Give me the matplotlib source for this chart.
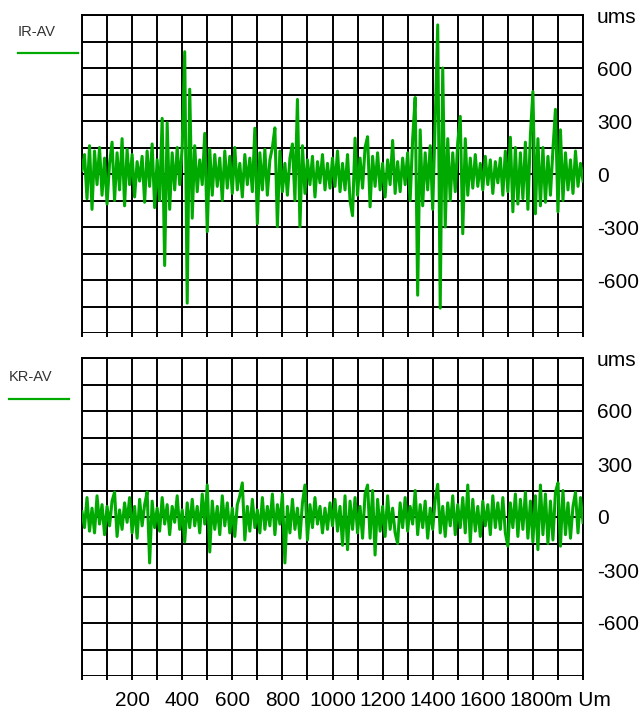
import numpy as np
import matplotlib
matplotlib.use("Agg")
import matplotlib.pyplot as plt
from matplotlib.lines import Line2D

plt.rcParams['font.family'] = ['Liberation Sans', 'DejaVu Sans']

# position along the track, one sample every 10 units
x_step = 10
ir_av = [
    20, 110, -140, 160, -200, 130, -60, 150, -120, 90,
    -170, 60, 180, -150, 120, -90, 200, -180, 140, -60,
    110, -130, 70, -40, 100, -160, 130, -70, 170, -190,
    80, -150, 315, -518, 290, -200, 120, -90, 150, -60,
    150, 692, -731, 480, -250, 160, -100, 80, -60, 230,
    -326, 140, -120, 110, -70, 90, -150, 130, -80, 100,
    -110, 150, -90, 60, -130, 110, -60, 90, -100, 259,
    -281, 120, -90, 140, -120, 80, 150, 261, -298, 130,
    -100, 60, -120, 90, 170, -150, 422, -298, 160, -110,
    80, -60, 100, -130, 70, -50, 110, -90, 60, -80,
    90, -70, 130, -100, 60, -90, 110, -150, -236, 203,
    -120, 90, -80, 150, 211, -186, 100, -70, 120, -90,
    60, -130, 80, -60, 190, -110, 70, -100, 90, -60,
    120, -150, 200, 433, -686, 250, -180, 120, -90, 160,
    -200, 300, 844, -759, 600, -300, 200, -150, 120, -100,
    180, 326, -338, 200, -120, 90, -80, 110, -70, 60,
    -90, 100, -60, 80, -110, 70, -50, 90, -120, 130,
    -100, 208, -214, 150, -170, 120, -140, 180, -200, 220,
    467, -225, 200, -180, 150, -160, 100, -120, 140, 366,
    -214, 250, -150, 120, -90, 80, -110, 130, -70, 60, -40,
]
kr_av = [
    30, -60, 110, -80, 50, -90, 120, -40, 70, -100,
    60, -50, 90, 141, -110, 40, -70, 80, -30, 110,
    -90, 60, -120, 100, -50, 70, 141, -260, 90, -60,
    50, -80, 110, -40, 70, -100, 60, -30, 120, -70,
    40, -141, 80, -60, 100, -50, 60, -90, 130, -40,
    181, -198, 90, -70, 60, -100, 120, -50, 80, -90,
    50, -110, 70, 120, 193, -130, 60, -80, 100, -60,
    40, -90, 110, -70, 60, -50, 130, -100, 70, -40,
    130, -260, 60, -90, 100, -70, 50, -120, 80, 181,
    -130, 70, -60, 110, -40, 60, -90, 50, -70, 80,
    -50, 100, -80, 60, -160, 120, -185, 90, -70, 110,
    -90, 60, -120, 130, 181, -120, 150, -215, 100, -80,
    60, -110, 120, -70, 50, -90, -150, 80, -60, 110,
    -80, 60, -40, 150, -100, 70, -60, 90, -120, 50,
    -70, 100, 185, -90, 60, -110, 80, -50, 120, -100,
    70, -60, 110, -90, 181, -141, 100, -80, 60, -110,
    90, -50, 70, -100, 120, -60, 80, -70, 110, -90,
    -165, 80, -60, 130, -110, 100, -70, 140, -120, 90,
    -141, 120, -185, 181, -100, 130, -150, 90, -130, 140,
    193, -165, 150, -100, 80, -120, 60, 140, -90, 110, -30,
]

x_ticks = list(range(0, 2001, 100))
x_labels = {200: '200', 400: '400', 600: '600', 800: '800', 1000: '1000',
            1200: '1200', 1400: '1400', 1600: '1600', 1800: '1800', 2000: 'm Um'}
y_ticks = list(range(-900, 901, 150))
y_labels = {900: 'ums', 600: '600', 300: '300', 0: '0', -300: '-300', -600: '-600'}

green = '#00aa00'
W, H = 641, 712
fig = plt.figure(figsize=(W / 100, H / 100), dpi=100)


def panel(top, series, name, text_xy, line_x, line_y, show_x):
    ax = fig.add_axes([82 / W, 1 - (top + 318) / H, 501 / W, 318 / H])
    xs = np.arange(len(series)) * x_step
    ax.plot(xs, series, color=green, lw=2.2, zorder=3)
    ax.set_xlim(0, 2000)
    ax.set_ylim(-900, 900)
    ax.set_xticks(x_ticks)
    ax.set_yticks(y_ticks)
    ax.set_yticklabels([y_labels.get(v, '') for v in y_ticks])
    if show_x:
        ax.set_xticklabels([x_labels.get(v, '') for v in x_ticks])
    else:
        ax.set_xticklabels([])
    ax.yaxis.tick_right()
    ax.tick_params(axis='y', length=0, pad=10, labelsize=15)
    ax.tick_params(axis='x', length=3, width=1.4, pad=8, labelsize=15)
    ax.grid(True, color='black', lw=1.4)
    for s in ax.spines.values():
        s.set_color('black')
        s.set_linewidth(1.4)
    ax.spines['bottom'].set_visible(False)
    fig.text(text_xy[0] / W, 1 - text_xy[1] / H, name, fontsize=10.5,
             color='#333333', va='center', ha='left')
    fig.add_artist(Line2D([line_x[0] / W, line_x[1] / W],
                          [1 - line_y / H, 1 - line_y / H], color=green, lw=1.6))
    return ax


panel(15, ir_av, 'IR-AV', (18, 32), (18, 78), 53, False)
panel(358, kr_av, 'KR-AV', (9, 377), (9, 69), 399, True)

fig.savefig('out.png', dpi=100)
